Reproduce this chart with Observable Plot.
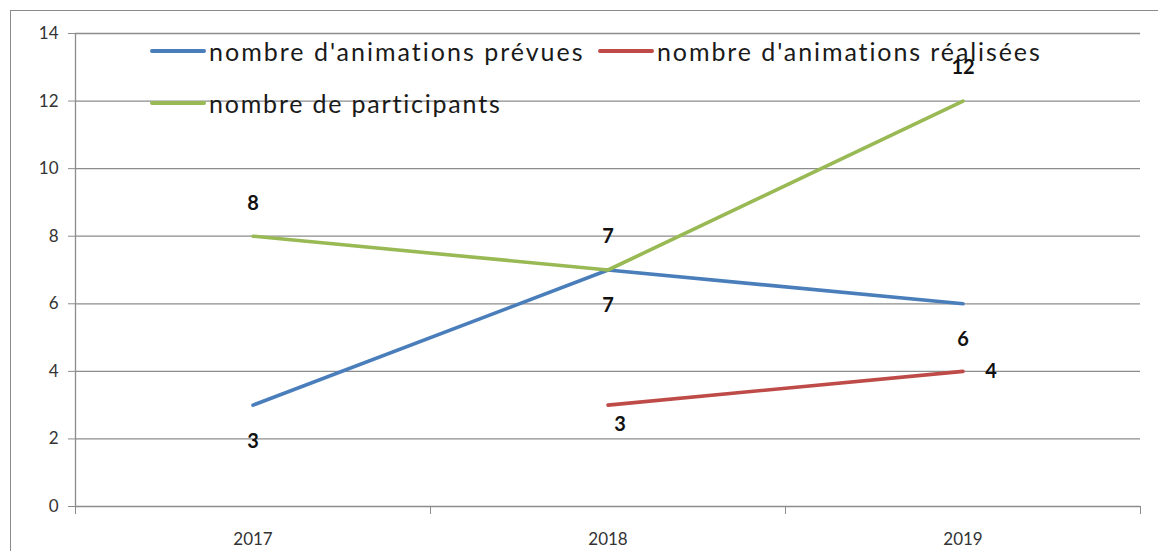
<!DOCTYPE html>
<html>
<head>
<meta charset="utf-8">
<script src="https://cdn.jsdelivr.net/npm/d3@7"></script>
<script src="https://cdn.jsdelivr.net/npm/@observablehq/plot@0.6"></script>
<style>
  body { margin: 0; background: #fff; }
  #wrap { position: relative; width: 1158px; height: 551px; overflow: hidden; font-family: Lato, "Open Sans", sans-serif; }
  #frame { position: absolute; left: 10px; top: 10px; width: 1200px; height: 600px; border: 1.5px solid #8a8a8a; box-sizing: border-box; }
  #chart { position: absolute; left: 0; top: 0; }
  .leg { position: absolute; display: flex; align-items: center; font-size: 25px; color: #1a1a1a; white-space: nowrap; }
  .sw { width: 56px; height: 4px; border-radius: 2px; margin-right: 3px; }
</style>
</head>
<body>
<div id="wrap">
  <div id="frame"></div>
  <div id="chart"></div>
  <div id="legend"></div>
</div>
<script>
const years = [2017, 2018, 2019];
const seriesNames = ["nombre d'animations prévues", "nombre d'animations réalisées", "nombre de participants"];
const prevues = [3, 7, 6];
const realisees = [null, 3, 4];
const participants = [8, 7, 12];
const colors = ["#4a7ebb", "#be4b48", "#98b954"];
const yTicks = [0, 2, 4, 6, 8, 10, 12, 14];

const seriesValues = [prevues, realisees, participants];
const rows = [];
seriesValues.forEach((vals, s) => {
  vals.forEach((v, i) => rows.push({series: seriesNames[s], year: years[i], value: v, idx: i}));
});
const boundaries = [years[0] - 0.5, ...years.map(y => y + 0.5)];
const gridColor = "#8c8c8c";
const labelFont = {fontSize: 20, fontWeight: "bold", fill: "#111"};

const of = (s) => rows.filter(d => d.series === seriesNames[s] && d.value != null);

const chart = Plot.plot({
  width: 1158,
  height: 551,
  marginLeft: 75,
  marginRight: 18,
  marginTop: 33,
  marginBottom: 45,
  style: {fontFamily: "Lato, 'Open Sans', sans-serif", background: "transparent", color: "#333"},
  x: {type: "linear", domain: [boundaries[0], boundaries[boundaries.length - 1]]},
  y: {domain: [0, 14]},
  marks: [
    Plot.ruleY(yTicks, {stroke: gridColor, strokeWidth: 1.3}),
    Plot.ruleX([boundaries[0]], {stroke: gridColor, strokeWidth: 1.3}),
    Plot.axisY({ticks: yTicks, tickSize: 7, tickPadding: 10, fontSize: 17, stroke: gridColor, fill: "#333", label: null}),
    Plot.axisX({ticks: boundaries, tickSize: 8, tickFormat: () => "", stroke: gridColor, label: null}),
    Plot.axisX({ticks: years, tickSize: 0, tickPadding: 26, fontSize: 17, fill: "#333", tickFormat: d => String(d), label: null}),
    Plot.line(rows, {x: "year", y: "value", z: "series", stroke: "series", strokeWidth: 3.6}),
    Plot.text(of(0), {x: "year", y: "value", text: "value", dy: 36, ...labelFont}),
    Plot.text(of(2), {x: "year", y: "value", text: "value", dy: -33, ...labelFont}),
    Plot.text(of(1).filter(d => d.year === 2018), {x: "year", y: "value", text: "value", dx: 12, dy: 19, ...labelFont}),
    Plot.text(of(1).filter(d => d.year === 2019), {x: "year", y: "value", text: "value", dx: 28, dy: 0, ...labelFont})
  ],
  color: {domain: seriesNames, range: colors}
});
document.getElementById("chart").appendChild(chart);

// legend
const legendSpots = [[150, 51, 376], [598, 51, 385], [150, 103, 293]];
const legend = document.getElementById("legend");
seriesNames.forEach((name, i) => {
  const el = document.createElement("div");
  el.className = "leg";
  el.style.left = legendSpots[i][0] + "px";
  el.style.top = (legendSpots[i][1] - 16) + "px";
  el.style.height = "32px";
  el.innerHTML = `<span class="sw" style="background:${colors[i]}"></span><span class="lt">${name}</span>`;
  legend.appendChild(el);
  const t = el.querySelector(".lt");
  const w = t.getBoundingClientRect().width;
  const ls = (legendSpots[i][2] - w) / name.length;
  t.style.letterSpacing = ls.toFixed(2) + "px";
});
</script>
</body>
</html>
